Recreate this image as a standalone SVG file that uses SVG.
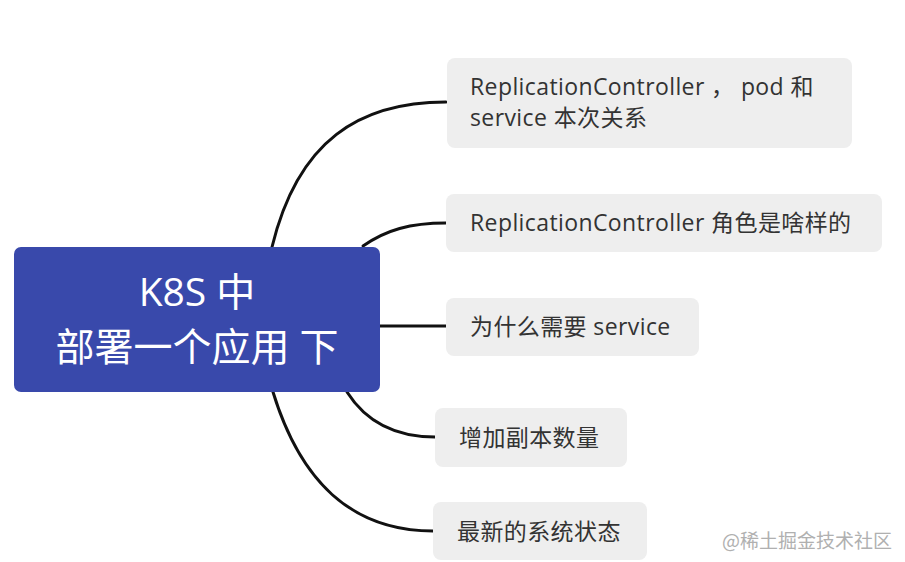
<svg xmlns="http://www.w3.org/2000/svg" width="905" height="562" viewBox="0 0 905 562">
<style>
.topic{fill:#eeeeee}
.t{font-family:"Open Sans","Noto Sans CJK SC",sans-serif;font-size:23px;letter-spacing:0.4px;fill:#333333}
.c{font-family:"Open Sans","Noto Sans CJK SC",sans-serif;font-size:39px;fill:#ffffff;text-anchor:middle}
.edge{fill:none;stroke:#111111;stroke-width:3;stroke-linecap:round}
.wm{font-family:"Noto Sans CJK SC",sans-serif;font-size:19px;fill:#b0b0b0}
</style>
<rect width="905" height="562" fill="#ffffff"/>
<g id="connectors">
<path class="edge" d="M272,247 C298,140 360,102 446,102"/>
<path class="edge" d="M363,246 C386,230 410,223 446,223"/>
<path class="edge" d="M380,326 L446,326"/>
<path class="edge" d="M347,392 C368,425 400,437 435,437"/>
<path class="edge" d="M273,392 C300,480 350,531 433,531"/>
</g>
<g id="central">
<rect x="14" y="247" width="366" height="145" rx="7" fill="#3949ab"/>
<text class="c" x="197" y="306">K8S 中</text>
<text class="c" x="197" y="361">部署一个应用 下</text>
</g>
<g id="node1">
<rect class="topic" x="447" y="58" width="405" height="90" rx="8"/>
<text class="t" x="470" y="95">ReplicationController ， pod 和</text>
<text class="t" x="470" y="126">service 本次关系</text>
</g>
<g id="node2">
<rect class="topic" x="446" y="194" width="436" height="58" rx="8"/>
<text class="t" x="470" y="231">ReplicationController 角色是啥样的</text>
</g>
<g id="node3">
<rect class="topic" x="446" y="298" width="253" height="58" rx="8"/>
<text class="t" x="470" y="335">为什么需要 service</text>
</g>
<g id="node4">
<rect class="topic" x="435" y="408" width="192" height="59" rx="8"/>
<text class="t" x="459" y="446">增加副本数量</text>
</g>
<g id="node5">
<rect class="topic" x="433" y="502" width="214" height="58" rx="8"/>
<text class="t" x="457" y="540">最新的系统状态</text>
</g>
<text class="wm" x="722" y="548">@稀土掘金技术社区</text>
</svg>
